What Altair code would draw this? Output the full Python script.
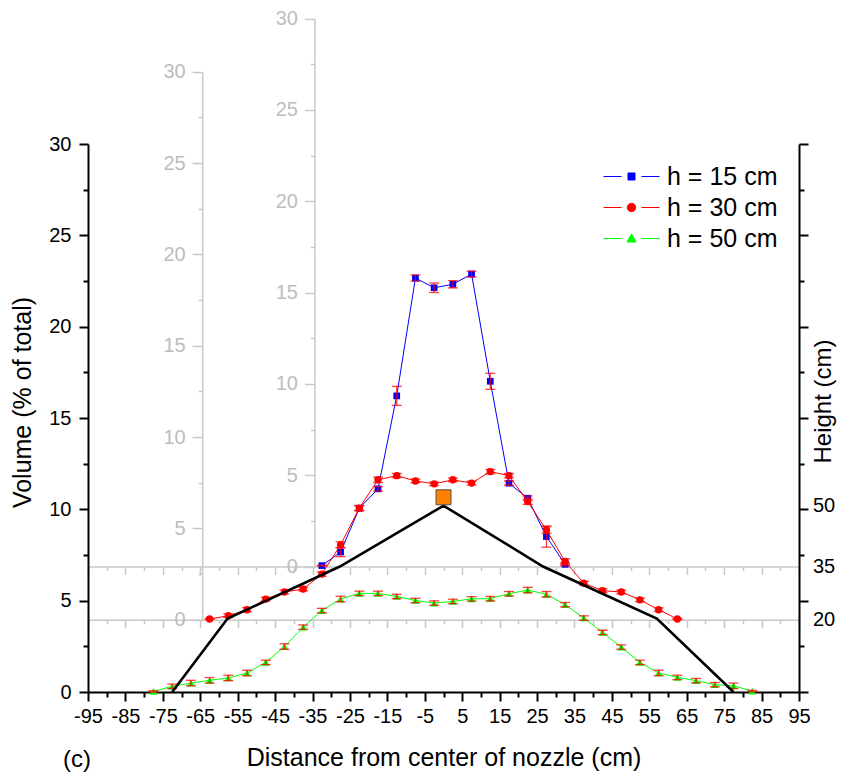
import altair as alt
import pandas as pd

FONT = "Liberation Sans"
W, H = 711, 548
X_DOMAIN = [-95, 95]
Y_DOMAIN = [0, 30]
GRAY = "#c8c8c8"
GRAY_TXT = "#bdbdbd"

# ---------------- data ----------------
x_ticks = [-95 + 5 * i for i in range(39)]
y_ticks = [2.5 * i for i in range(13)]

series_names = ["h = 15 cm", "h = 30 cm", "h = 50 cm"]
series_colors = ["#0000ff", "#ff0000", "#00ff00"]

green_x = [-77.5, -72.5, -67.5, -62.5, -57.5, -52.5, -47.5, -42.5, -37.5, -32.5, -27.5,
           -22.5, -17.5, -12.5, -7.5, -2.5, 2.5, 7.5, 12.5, 17.5, 22.5, 27.5, 32.5, 37.5,
           42.5, 47.5, 52.5, 57.5, 62.5, 67.5, 72.5, 77.5, 82.5]
green_y = [0.03, 0.31, 0.49, 0.64, 0.77, 1.04, 1.62, 2.49, 3.55, 4.46, 5.09, 5.40, 5.40,
           5.23, 5.01, 4.87, 4.96, 5.10, 5.11, 5.38, 5.58, 5.35, 4.78, 4.05, 3.26, 2.46,
           1.62, 1.04, 0.80, 0.62, 0.40, 0.34, 0.05]
green_err = [0.04, 0.12, 0.15, 0.15, 0.15, 0.15, 0.12, 0.15, 0.12, 0.12, 0.15, 0.12, 0.12,
             0.12, 0.12, 0.12, 0.12, 0.12, 0.12, 0.12, 0.15, 0.15, 0.12, 0.12, 0.12, 0.12,
             0.12, 0.15, 0.12, 0.12, 0.12, 0.15, 0.04]

red_x = [-62.5, -57.5, -52.5, -47.5, -42.5, -37.5, -32.5, -27.5, -22.5, -17.5, -12.5, -7.5,
         -2.5, 2.5, 7.5, 12.5, 17.5, 22.5, 27.5, 32.5, 37.5, 42.5, 47.5, 52.5, 57.5, 62.5]
red_y = [0.04, 0.22, 0.55, 1.13, 1.52, 1.68, 2.50, 4.10, 6.11, 7.66, 7.89, 7.60, 7.44,
         7.66, 7.48, 8.11, 7.89, 6.47, 4.92, 3.19, 2.00, 1.59, 1.52, 1.09, 0.55, 0.04]
red_err = [0.03, 0.10, 0.12, 0.10, 0.10, 0.10, 0.12, 0.17, 0.15, 0.15, 0.12, 0.10, 0.10,
           0.10, 0.10, 0.12, 0.12, 0.15, 0.18, 0.15, 0.10, 0.10, 0.10, 0.10, 0.10, 0.03]

blue_x = [-32.5, -27.5, -22.5, -17.5, -12.5, -7.5, -2.5, 2.5, 7.5, 12.5, 17.5, 22.5, 27.5, 32.5]
blue_y = [0.05, 0.79, 3.19, 4.25, 9.34, 15.79, 15.26, 15.45, 16.01, 10.14, 4.56, 3.74, 1.64, 0.12]
blue_err = [0.02, 0.25, 0.12, 0.12, 0.52, 0.17, 0.26, 0.20, 0.16, 0.44, 0.12, 0.12, 0.58, 0.08]

nozzle_x = [-72.5, -57.7, -27.7, 0.0, 26.6, 57.0, 77.5]
nozzle_y = [0.0, 4.02, 6.87, 10.2, 6.87, 4.02, 0.0]
marker_x = [0.0]
marker_y = [10.66]

# baselines (in main-axis units) of the offset series and x position of their gray axes
red_offset = 3.955
blue_offset = 6.87
red_axis_x = -64.5
blue_axis_x = -34.5

height_labels = ["50", "35", "20"]
height_pos = [10.2, blue_offset, red_offset]

legend_paths = [
    "M-4,0H-1.43M1.43,0H4M-0.5,-0.5H0.5V0.5H-0.5Z",
    "M-4,0H-1.43M1.43,0H4M-0.6,0A0.6,0.6,0,1,0,0.6,0A0.6,0.6,0,1,0,-0.6,0Z",
    "M-4,0H-1.43M1.43,0H4M0,-0.65L0.65,0.5L-0.65,0.5Z",
]


def frame(xs, ys, errs):
    df = pd.DataFrame({"x": xs, "y": ys, "e": errs})
    df["lo"] = df["y"] - df["e"]
    df["hi"] = df["y"] + df["e"]
    return df


green_df = frame(green_x, green_y, green_err)
red_df = frame(red_x, red_y, red_err)
blue_df = frame(blue_x, blue_y, blue_err)
nozzle_df = pd.DataFrame({"x": nozzle_x, "y": nozzle_y})
marker_df = pd.DataFrame({"x": marker_x, "y": marker_y})
height_df = pd.DataFrame({"label": height_labels, "pos": height_pos})
legend_df = pd.DataFrame({"series": series_names, "x": [0, 0, 0], "y": [0, 0, 0]})

# ---------------- scales & axes ----------------
XMAJOR = "(datum.value + 95) % 10 === 0"
YMAJOR = "datum.value % 5 === 0"


def cond(test, a, b):
    return {"condition": {"test": test, "value": a}, "value": b}


x_scale = alt.Scale(domain=X_DOMAIN, nice=False, zero=False)
y_scale = alt.Scale(domain=Y_DOMAIN, nice=False, zero=False)


def shifted_y(off):
    px = off * H / 30
    return alt.Scale(domain=Y_DOMAIN, nice=False, zero=False, range=[H - px, -px])


x_axis_main = alt.Axis(
    orient="bottom", values=x_ticks, grid=False,
    labelExpr=f"{XMAJOR} ? '' + datum.value : ''",
    tickSize=cond(XMAJOR, 9, 5), tickWidth=2, tickColor="black",
    domainColor="black", domainWidth=2, labelFontSize=20, labelColor="black",
    labelPadding=5, labelFlush=False, labelOverlap=False,
    title="Distance from center of nozzle (cm)", titleFontSize=25, titleFontWeight="normal",
    titleColor="black", titleX=W / 2, titleY=65, titleBaseline="middle", titleAlign="center",
)
y_axis_main = alt.Axis(
    orient="left", values=y_ticks, grid=False,
    labelExpr=f"{YMAJOR} ? '' + datum.value : ''",
    tickSize=cond(YMAJOR, 9, 5), tickWidth=2, tickColor="black",
    domainColor="black", domainWidth=2, labelFontSize=20, labelColor="black",
    labelPadding=8, labelFlush=False, labelOverlap=False,
    title="Volume (% of total)", titleFontSize=25, titleFontWeight="normal",
    titleColor="black", titleX=-66, titleY=258, titleAngle=270,
    titleBaseline="middle", titleAlign="center",
)


def gray_x_axis(off):
    return alt.Axis(
        orient="bottom", offset=-off * H / 30, values=x_ticks, grid=False, labels=False,
        tickSize=cond(XMAJOR, 8, 4), tickWidth=1.5, tickColor=GRAY,
        domainColor=GRAY, domainWidth=1.5, title=None,
    )


def gray_y_axis(ax):
    return alt.Axis(
        orient="left", offset=-(ax - X_DOMAIN[0]) * W / 190, values=y_ticks, grid=False,
        labelExpr=f"{YMAJOR} ? '' + datum.value : ''",
        tickSize=cond(YMAJOR, 10, 4), tickWidth=1.5, tickColor=GRAY,
        domainColor=GRAY, domainWidth=1.5, labelColor=GRAY_TXT, labelFontSize=20,
        labelPadding=7, labelFlush=False, labelOverlap=False, title=None,
    )


right_axis = alt.Axis(
    orient="right", values=y_ticks, grid=False, labels=False,
    tickSize=cond(YMAJOR, 9, 5), tickWidth=2, tickColor="black",
    domainColor="black", domainWidth=2,
    title="Height (cm)", titleFontSize=24, titleFontWeight="normal", titleColor="black",
    titleX=24, titleY=257, titleAngle=270, titleBaseline="middle", titleAlign="center",
)

ERR_COLOR = "#ff0000"


def series_layer(df, color, point_mark, xs, ys, xa, ya):
    X = lambda f: alt.X(f"{f}:Q", scale=xs, axis=xa)
    Y = lambda f: alt.Y(f"{f}:Q", scale=ys, axis=ya)
    base = alt.Chart(df)
    line = base.mark_line(color=color, strokeWidth=1).encode(x=X("x"), y=Y("y"))
    pts = point_mark(base).encode(x=X("x"), y=Y("y"))
    rule = base.mark_rule(color=ERR_COLOR, strokeWidth=1.3, opacity=0.75).encode(
        x=X("x"), y=Y("lo"), y2="hi")
    cap_lo = base.mark_tick(color=ERR_COLOR, orient="horizontal", size=10, thickness=1.3,
                            opacity=0.75).encode(x=X("x"), y=Y("lo"))
    cap_hi = base.mark_tick(color=ERR_COLOR, orient="horizontal", size=10, thickness=1.3,
                            opacity=0.75).encode(x=X("x"), y=Y("hi"))
    return [line, pts, rule, cap_lo, cap_hi]


# blue layer (own offset scale + gray axes)
blue_ys = shifted_y(blue_offset)
blue_layer = alt.layer(*series_layer(
    blue_df, "#0000ff",
    lambda b: b.mark_square(color="#0000ff", size=45, opacity=1),
    x_scale, blue_ys, gray_x_axis(blue_offset), gray_y_axis(blue_axis_x)))

# red layer
red_ys = shifted_y(red_offset)
red_layer = alt.layer(*series_layer(
    red_df, "#ff0000",
    lambda b: b.mark_circle(color="#ff0000", size=55, opacity=1),
    x_scale, red_ys, gray_x_axis(red_offset), gray_y_axis(red_axis_x)))

# main layer
green_parts = series_layer(
    green_df, "#00ff00",
    lambda b: b.mark_point(shape="triangle-up", filled=True, color="#00ff00", size=60, opacity=1),
    x_scale, y_scale, x_axis_main, y_axis_main)

MX = lambda f: alt.X(f"{f}:Q", scale=x_scale, axis=x_axis_main)
MY = lambda f: alt.Y(f"{f}:Q", scale=y_scale, axis=y_axis_main)

nozzle = alt.Chart(nozzle_df).mark_line(color="black", strokeWidth=2.6).encode(x=MX("x"), y=MY("y"))
marker = alt.Chart(marker_df).mark_square(size=225, color="#ff8000", stroke="#505050",
                                          strokeWidth=1, opacity=1).encode(x=MX("x"), y=MY("y"))

legend_obj = alt.Legend(
    title=None, orient="none", legendX=531, legendY=20, labelFontSize=25, labelFont=FONT,
    labelColor="black", symbolSize=196, symbolStrokeWidth=1, labelOffset=23,
    rowPadding=5, padding=0, labelLimit=400,
)
legend_layer = alt.Chart(legend_df).transform_filter("false").mark_point(
    filled=True, opacity=1, strokeWidth=1).encode(
    x=MX("x"), y=MY("y"),
    fill=alt.Fill("series:N", scale=alt.Scale(domain=series_names, range=series_colors), legend=legend_obj),
    stroke=alt.Stroke("series:N", scale=alt.Scale(domain=series_names, range=series_colors), legend=legend_obj),
    shape=alt.Shape("series:N", scale=alt.Scale(domain=series_names, range=legend_paths), legend=legend_obj),
)

main_layer = alt.layer(*green_parts, nozzle, marker, legend_layer)

# right axis layer with height labels
height_text = alt.Chart(height_df).mark_text(
    align="left", baseline="middle", fontSize=20, color="black", font=FONT).encode(
    x=alt.value(725),
    y=alt.Y("pos:Q", scale=y_scale, axis=right_axis),
    text="label:N",
)
panel_text = alt.Chart(pd.DataFrame({"t": ["(c)"]})).mark_text(
    align="center", baseline="middle", fontSize=24, color="black", font=FONT).encode(
    x=alt.value(-11), y=alt.value(616), text="t:N")
right_layer = alt.layer(height_text, panel_text)

chart = alt.layer(blue_layer, red_layer, main_layer, right_layer).resolve_scale(
    x="independent", y="independent"
).properties(
    width=W, height=H,
    autosize=alt.AutoSizeParams(type="none"),
    padding={"left": 80, "top": 136, "right": 39, "bottom": 80},
).configure(font=FONT).configure_view(stroke=None)

chart.save("out.html", embed_options={"renderer": "svg", "actions": False})
